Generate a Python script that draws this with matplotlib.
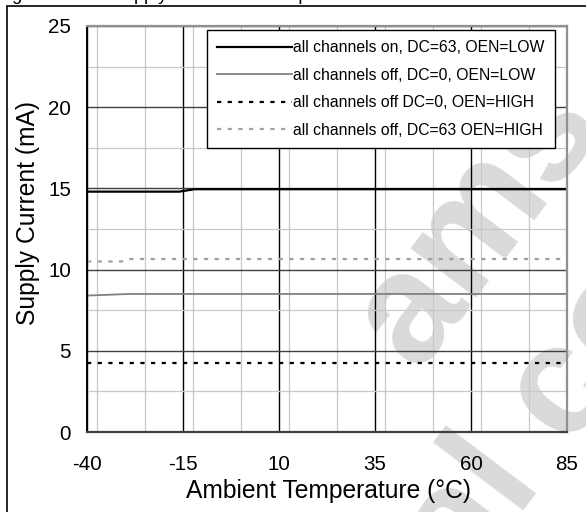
#!/usr/bin/env python3
# plot.py - supply current vs ambient temperature

import matplotlib
matplotlib.use('Agg')
import matplotlib.pyplot as plt
from matplotlib.patches import Rectangle
from matplotlib.ticker import MultipleLocator
import numpy as np

plt.rcParams['font.family'] = ['Liberation Sans', 'DejaVu Sans']
plt.rcParams['axes.unicode_minus'] = False

# Data
temp_on_63_low = [-40, -16, -12, 85]
curr_on_63_low = [14.8, 14.8, 14.95, 14.95]

temp_off_0_low = [-40, -29, 85]
curr_off_0_low = [8.4, 8.5, 8.5]

temp_off_0_high = [-40, 85]
curr_off_0_high = [4.27, 4.27]

temp_off_63_high = [-40, -31, -29, 85]
curr_off_63_high = [10.5, 10.5, 10.65, 10.65]

labels = ['all channels on, DC=63, OEN=LOW',
          'all channels off, DC=0, OEN=LOW',
          'all channels off DC=0, OEN=HIGH',
          'all channels off, DC=63 OEN=HIGH']

x_ticks = np.arange(-40, 86, 25)
y_ticks = np.arange(0, 26, 5)

W, H = 586, 512
fig = plt.figure(figsize=(W/100, H/100), dpi=100)
ax = fig.add_axes([87/W, 80/H, 480/W, 406/H])
ax.set_facecolor('none')

# Outer frame and the caption that is cut off at the very top
fig.patches.append(Rectangle((7/W, -0.05), 1.2, (H-5.5)/H + 0.05,
                             transform=fig.transFigure, fill=False,
                             edgecolor='black', linewidth=1.2, zorder=5))
fig.text(-3/W, 1.0, 'Figure 13:', fontsize=13, va='baseline', ha='left')
fig.text(112/W, 1.0, 'Supply Current vs. Temperature', fontsize=13,
         va='baseline', ha='left')

# Watermark
wm_color = '#dadada'
fig.text(478/W, 1 - 222/H, 'ams', fontsize=112, fontweight='bold',
         color=wm_color, rotation=53, rotation_mode='anchor',
         ha='center', va='center', zorder=-1)
fig.text(465/W, 1 - 588/H, 'al content', fontsize=112, fontweight='bold',
         color=wm_color, rotation=53, rotation_mode='anchor',
         ha='left', va='baseline', zorder=-1)

ax.plot(temp_on_63_low, curr_on_63_low, color='black', lw=1.6, label=labels[0])
ax.plot(temp_off_0_low, curr_off_0_low, color='#808080', lw=1.3, label=labels[1])
ax.plot(temp_off_0_high, curr_off_0_high, color='black', lw=1.6,
        dashes=(1.9, 2.9), label=labels[2])
ax.plot(temp_off_63_high, curr_off_63_high, color='#a0a0a0', lw=1.6,
        dashes=(1.9, 2.9), label=labels[3])

ax.set_xlim(-40, 85)
ax.set_ylim(0, 25)
ax.set_xticks(x_ticks)
ax.set_yticks(y_ticks)
ax.xaxis.set_minor_locator(MultipleLocator(12.5))
ax.yaxis.set_minor_locator(MultipleLocator(2.5))
ax.tick_params(which='both', length=0)
ax.tick_params(axis='x', labelsize=14.8, pad=16.5)
ax.tick_params(axis='y', labelsize=14.8, pad=11.5)

ax.grid(which='minor', color='#c8c8c8', lw=0.9)
ax.grid(which='major', axis='x', color='black', lw=1.0)
ax.grid(which='major', axis='y', color='#404040', lw=1.0)
ax.set_axisbelow(True)

ax.spines['left'].set_color('black')
ax.spines['left'].set_linewidth(1.4)
ax.spines['bottom'].set_color('#404040')
ax.spines['bottom'].set_linewidth(1.6)
ax.spines['top'].set_color('#909090')
ax.spines['top'].set_linewidth(1.6)
ax.spines['right'].set_color('#909090')
ax.spines['right'].set_linewidth(1.6)

ax.set_xlabel('Ambient Temperature (°C)', fontsize=17.7)
ax.set_ylabel('Supply Current (mA)', fontsize=17.7)
ax.xaxis.set_label_coords((329-87)/480, -(479-432)/406)
ax.yaxis.set_label_coords(-(87-40)/480, (432-213)/406)

leg = ax.legend(loc='upper right', bbox_to_anchor=(555/W, 1 - 30/H),
                bbox_transform=fig.transFigure, fontsize=11.3,
                handlelength=4.75, handletextpad=0.1, borderpad=0.65,
                labelspacing=0.8, borderaxespad=0, fancybox=False,
                framealpha=1, edgecolor='black')
leg.get_frame().set_linewidth(1.0)

plt.savefig('out.png', dpi=100)
